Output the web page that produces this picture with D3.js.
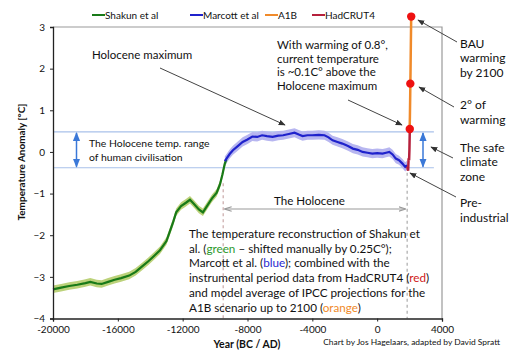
<!DOCTYPE html>
<html>
<head>
<meta charset="utf-8">
<script src="https://cdn.jsdelivr.net/npm/d3@7"></script>
<style>
  body { margin: 0; background: #fff; }
  text { font-family: Lato, "Open Sans", sans-serif; fill: #111; }
</style>
</head>
<body>
<svg id="chart" width="515" height="356"></svg>
<script>
// data
let shakunYears = [-20000,-19500,-19000,-18500,-18000,-17700,-17300,-17000,-16600,-16200,-15800,-15300,-14900,-14500,-14100,-13800,-13400,-13000,-12800,-12600,-12400,-12100,-11800,-11550,-11300,-11000,-10750,-10500,-10200,-9900,-9700,-9550,-9400,-9300];
let shakunVals  = [-3.30,-3.26,-3.22,-3.19,-3.15,-3.12,-3.16,-3.17,-3.12,-3.07,-3.03,-2.97,-2.88,-2.75,-2.62,-2.51,-2.36,-2.14,-1.92,-1.70,-1.45,-1.30,-1.22,-1.15,-1.25,-1.38,-1.45,-1.30,-1.12,-0.98,-0.78,-0.55,-0.28,-0.18];
let marcottYears = [-9400,-9100,-8900,-8600,-8300,-8000,-7700,-7400,-7100,-6800,-6450,-6100,-5800,-5450,-5100,-4800,-4600,-4300,-4000,-3600,-3250,-3000,-2750,-2450,-2150,-1800,-1500,-1200,-900,-600,-300,0,330,550,750,950,1150,1350,1560,1730,1850];
let marcottVals  = [-0.22,-0.05,0.04,0.14,0.24,0.30,0.37,0.36,0.40,0.38,0.36,0.39,0.40,0.43,0.46,0.41,0.38,0.40,0.40,0.41,0.40,0.35,0.28,0.24,0.20,0.14,0.08,0.05,0.00,-0.02,-0.04,-0.03,-0.04,-0.02,0.00,-0.06,-0.16,-0.20,-0.28,-0.36,-0.32];
let hadYears = [1850,1880,1910,1940,1970,1990,2012];
let hadVals  = [-0.35,-0.40,-0.45,-0.15,-0.20,0.05,0.52];
let a1bYears = [2000,2020,2040,2060,2080,2100];
let a1bVals  = [0.50,0.85,1.40,2.00,2.65,3.25];
let markerYears = [2012,2045,2100];
let markerVals  = [0.55,1.64,3.25];
let holoceneRange = [0.48,-0.38];
let xTicks = [-20000,-16000,-12000,-8000,-4000,0,4000];
let yTicks = [-4,-3,-2,-1,0,1,2,3];
let shakunBand = 0.09, marcottBand = 0.11;

let svg = d3.select("#chart");
let x = d3.scaleLinear().domain([-20000,4000]).range([53,442]);
let y = d3.scaleLinear().domain([-4,3]).range([318.5,27]);

// scale a text's font so its (first line) width matches the reference width
function fit(t, w){
  let node = t.select("tspan").node() || t.node();
  let fs = +t.attr("font-size");
  let cur = node.getComputedTextLength();
  if(cur > 0) t.attr("font-size", (fs*w/cur).toFixed(2));
  return t;
}

let defs = svg.append("defs");
defs.append("marker").attr("id","arr").attr("viewBox","0 0 10 10")
    .attr("refX",9).attr("refY",5).attr("markerWidth",7).attr("markerHeight",7)
    .attr("orient","auto-start-reverse")
  .append("path").attr("d","M0,1L10,5L0,9z").attr("fill","#333");
defs.append("marker").attr("id","barr").attr("viewBox","0 0 10 10")
    .attr("refX",9).attr("refY",5).attr("markerWidth",6).attr("markerHeight",6)
    .attr("orient","auto-start-reverse")
  .append("path").attr("d","M0,1L10,5L0,9z").attr("fill","#3a78d8");
defs.append("marker").attr("id","garr").attr("viewBox","0 0 10 10")
    .attr("refX",9).attr("refY",5).attr("markerWidth",6).attr("markerHeight",6)
    .attr("orient","auto-start-reverse")
  .append("path").attr("d","M0,2L10,5L0,8").attr("fill","none").attr("stroke","#999").attr("stroke-width",1.5);

// plot frame (top / right)
svg.append("path").attr("d","M53," + y(3) + "H442V" + y(-4))
    .attr("fill","none").attr("stroke","#9a9a9a").attr("stroke-width",1.2);

// holocene range lines
svg.selectAll(".range").data(holoceneRange).enter().append("line")
    .attr("x1",53).attr("x2",x(3500)).attr("y1",d=>y(d)).attr("y2",d=>y(d))
    .attr("stroke","#a9c1ea").attr("stroke-width",1.2);

// dashed verticals
svg.append("line").attr("x1",x(-9500)).attr("x2",x(-9500)).attr("y1",y(-0.75)).attr("y2",y(-4))
    .attr("stroke","#c9a8a8").attr("stroke-dasharray","3,3").attr("stroke-width",1.2);
svg.append("line").attr("x1",x(1850)).attr("x2",x(1850)).attr("y1",y(-0.5)).attr("y2",y(-4))
    .attr("stroke","#aaa").attr("stroke-dasharray","3,3").attr("stroke-width",1.2);

// bands and lines
let area = d3.area().x(d=>x(d[0])).y0(d=>y(d[1]-d[2])).y1(d=>y(d[1]+d[2]));
let line = d3.line().x(d=>x(d[0])).y(d=>y(d[1]));
let shakun = shakunYears.map((t,i)=>[t,shakunVals[i],shakunBand]);
let marcott = marcottYears.map((t,i)=>[t,marcottVals[i],marcottBand]);
svg.append("path").attr("d",area(shakun)).attr("fill","#bcd27a");
svg.append("path").attr("d",area(marcott)).attr("fill","#b7b6f0");
svg.append("path").attr("d",line(shakun)).attr("fill","none").attr("stroke","#187a18").attr("stroke-width",2.2);
svg.append("path").attr("d",line(marcott)).attr("fill","none").attr("stroke","#1f22cc").attr("stroke-width",2.2);
svg.append("path").attr("d",line(a1bYears.map((t,i)=>[t,a1bVals[i]])))
    .attr("fill","none").attr("stroke","#f08a2a").attr("stroke-width",2.5);
svg.append("path").attr("d",line(hadYears.map((t,i)=>[t,hadVals[i]])))
    .attr("fill","none").attr("stroke","#b5203c").attr("stroke-width",2.5);
svg.selectAll(".dot").data(markerYears).enter().append("circle")
    .attr("cx",d=>x(d)).attr("cy",(d,i)=>y(markerVals[i])).attr("r",4.2).attr("fill","#ee1111");

// axes
let yAxis = svg.append("g").attr("transform","translate(53,0)")
    .call(d3.axisLeft(y).tickValues(yTicks).tickSize(3).tickFormat(d3.format("d")));
let xAxis = svg.append("g").attr("transform","translate(0," + y(-4) + ")")
    .call(d3.axisBottom(x).tickValues(xTicks).tickSize(3).tickFormat(d=>d));
[yAxis,xAxis].forEach(a=>{
  a.select(".domain").attr("stroke","#222").attr("stroke-width",1.3);
  a.selectAll(".tick line").attr("stroke","#222");
  a.selectAll("text").attr("font-size",10).attr("font-family","Lato, sans-serif").attr("fill","#222");
});
yAxis.selectAll("text").attr("x",-8);
xAxis.selectAll("text").attr("y",7);

fit(svg.append("text").attr("transform","translate(25,162) rotate(-90)").attr("text-anchor","middle")
    .attr("font-size",10).attr("font-weight","bold").text("Temperature Anomaly [°C]"), 117);
fit(svg.append("text").attr("x",247).attr("y",348).attr("text-anchor","middle")
    .attr("font-size",10).attr("font-weight","bold").text("Year (BC / AD)"), 67);
fit(svg.append("text").attr("x",500).attr("y",344.5).attr("text-anchor","end")
    .attr("font-size",8).attr("fill","#333").text("Chart by Jos Hagelaars, adapted by David Spratt"), 177);

// legend
let legend = [["Shakun et al","#187a18",92],["Marcott et al","#1f22cc",190],["A1B","#f08a2a",265],["HadCRUT4","#b5203c",312]];
legend.forEach(l=>{
  svg.append("line").attr("x1",l[2]).attr("x2",l[2]+13).attr("y1",15).attr("y2",15).attr("stroke",l[1]).attr("stroke-width",2);
  svg.append("text").attr("x",l[2]+13).attr("y",18.5).attr("font-size",10).text(l[0]);
});

// blue range arrows
[76.5,423].forEach(px=>{
  svg.append("line").attr("x1",px).attr("x2",px).attr("y1",y(holoceneRange[0])+1).attr("y2",y(holoceneRange[1])-1)
    .attr("stroke","#3a78d8").attr("stroke-width",1.5)
    .attr("marker-start","url(#barr)").attr("marker-end","url(#barr)");
});

// holocene span arrow
svg.append("line").attr("x1",x(-9500)+2).attr("x2",x(1850)-2).attr("y1",209).attr("y2",209)
    .attr("stroke","#999").attr("stroke-width",1.2)
    .attr("marker-start","url(#garr)").attr("marker-end","url(#garr)");
fit(svg.append("text").attr("x",309.5).attr("y",205).attr("text-anchor","middle").attr("font-size",12).text("The Holocene"), 71);

// multi-line annotations
function lines(x0, y0, dy, arr, fs){
  let t = svg.append("text").attr("x",x0).attr("y",y0).attr("font-size",fs);
  arr.forEach((s,i)=>t.append("tspan").attr("x",x0).attr("dy",i?dy:0).text(s));
  return t;
}
lines(92,59,0,["Holocene maximum"],11.5);
fit(lines(277,49,13.5,["With warming of 0.8°,","current temperature","is ~0.1C° above the","Holocene maximum"],12),111);
lines(89,147,13.5,["The Holocene temp. range","of human civilisation"],10.4);
lines(460,47.5,14.7,["BAU","warming","by 2100"],12);
lines(460,109,14.7,["2° of","warming"],12);
lines(460,151.5,14.7,["The safe","climate","zone"],12);
lines(460,207,14.5,["Pre-","industrial"],12);

let para = svg.append("text").attr("font-size",12);
let paraLines = [
  [["The temperature reconstruction of Shakun et",null]],
  [["al. (",null],["green","#2e9a2e"],[" – shifted manually by 0.25C°);",null]],
  [["Marcott et al. (",null],["blue","#2a2ad0"],["); combined with the",null]],
  [["instrumental period data from HadCRUT4 (",null],["red","#d01818"],[")",null]],
  [["and model average of IPCC projections for the",null]],
  [["A1B scenario up to 2100 (",null],["orange","#f08a2a"],[")",null]]
];
paraLines.forEach((pl,i)=>{
  pl.forEach((seg,j)=>{
    let ts = para.append("tspan").text(seg[0]);
    if(j===0) ts.attr("x",189).attr("y",238 + i*14.7);
    if(seg[1]) ts.attr("fill",seg[1]);
  });
});
fit(para, 231);

// pointer arrows
let pointers = [[160,68,285,125],[348,100,402,125],[457,42,418,20],[454,107,419,87],[453,158,431,147],[456,197,410,173]];
pointers.forEach(p=>{
  svg.append("line").attr("x1",p[0]).attr("y1",p[1]).attr("x2",p[2]).attr("y2",p[3])
    .attr("stroke","#444").attr("stroke-width",1).attr("marker-end","url(#arr)");
});
</script>
</body>
</html>
